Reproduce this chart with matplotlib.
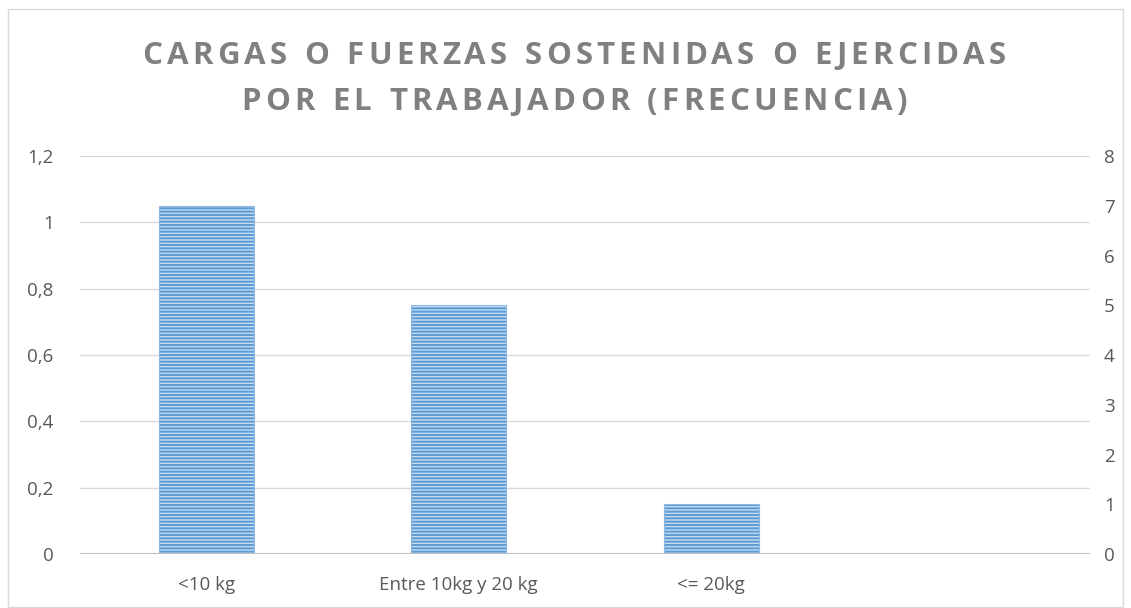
import matplotlib
matplotlib.use("Agg")
import matplotlib.pyplot as plt
import numpy as np

categories = ["<10 kg", "Entre 10kg y 20 kg", "<= 20kg", ""]
frecuencia = [7, 5, 1, None]
left_ticks = [0, 0.2, 0.4, 0.6, 0.8, 1, 1.2]
left_labels = ["0", "0,2", "0,4", "0,6", "0,8", "1", "1,2"]
right_ticks = [0, 1, 2, 3, 4, 5, 6, 7, 8]
title_lines = ["CARGAS O FUERZAS SOSTENIDAS O EJERCIDAS",
               "POR EL TRABAJADOR (FRECUENCIA)"]

plt.rcParams["font.family"] = ["Open Sans", "DejaVu Sans"]
plt.rcParams["hatch.linewidth"] = 1.4

W, H = 1131, 608
fig = plt.figure(figsize=(W / 100, H / 100), dpi=100)
ax = fig.add_axes([80 / W, (H - 554) / H, 1010 / W, 398 / H])
ax2 = ax.twinx()

text_col = "#595959"
grid_col = "#d9d9d9"

# left axis (primary, empty)
ax.set_ylim(0, 1.2)
ax.set_yticks(left_ticks)
ax.set_yticklabels(left_labels)
ax.set_xlim(-0.5, len(categories) - 0.5)
ax.set_xticks(range(len(categories)))
ax.set_xticklabels(categories)
for y in left_ticks[1:]:
    ax.axhline(y, color=grid_col, lw=1, zorder=0)

# bars on the secondary axis
xs = [i for i, v in enumerate(frecuencia) if v is not None]
vals = [v for v in frecuencia if v is not None]
ax2.bar(xs, vals, width=0.376, color="#c4dbf0", edgecolor="#5b9bd5",
        hatch="-----", linewidth=0, zorder=3)
ax2.bar(xs, vals, width=0.376, fill=False, edgecolor="#8fb9e3",
        linewidth=0.8, zorder=3)
ax2.set_ylim(0, 8)
ax2.set_yticks(right_ticks)
ax2.axhline(0, color="#bfbfbf", lw=2.2, zorder=4)

for a in (ax, ax2):
    for s in a.spines.values():
        s.set_visible(False)
    a.tick_params(length=0, labelsize=13.5, labelcolor=text_col)
ax.tick_params(axis="y", pad=19)
ax2.tick_params(axis="y", pad=10)
ax.tick_params(axis="x", pad=16)

# chart frame
fig.patches.append(plt.Rectangle((8 / W, 1 / H), (W - 16) / W, (H - 10) / H,
                                 transform=fig.transFigure, fill=False,
                                 edgecolor="#d9d9d9", lw=1))

# spaced title, drawn letter by letter
fig.canvas.draw()
renderer = fig.canvas.get_renderer()
fsize = 22.5
line_items = []
for line, yc in zip(title_lines, [56, 102]):
    texts = []
    widths = []
    for ch in line:
        t = fig.text(0, 1 - yc / H, ch, fontsize=fsize, fontweight="bold",
                     color="#808080", va="center", ha="left")
        w = renderer.get_text_width_height_descent(
            ch if ch != " " else "n", t._fontproperties, ismath=False)[0]
        if ch == " ":
            w *= 0.45
        texts.append(t)
        widths.append(w)
    line_items.append((texts, widths))
# tracking chosen so the first line spans the same width as in the source
target = 863
t0, w0 = line_items[0]
tracking = (target - sum(w0)) / (len(w0) - 1)
for texts, widths in line_items:
    total = sum(widths) + tracking * (len(widths) - 1)
    x = 574 - total / 2
    for t, w in zip(texts, widths):
        t.set_x(x / W)
        x += w + tracking

fig.savefig("out.png", dpi=100)
